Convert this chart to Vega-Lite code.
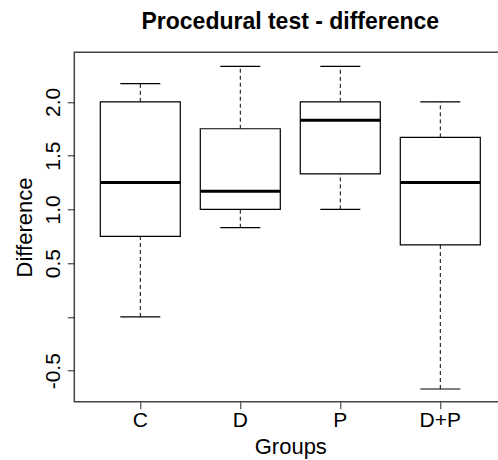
{
  "$schema": "https://vega.github.io/schema/vega-lite/v6.json",
  "autosize": "none",
  "padding": {"left": 74.3, "top": 52.3, "right": 0, "bottom": 58.3},
  "width": 432,
  "height": 349.4,
  "background": "white",
  "config": {
    "font": "Liberation Sans",
    "view": {"stroke": "#444", "strokeWidth": 1.5},
    "axis": {"grid": false, "domain": false, "tickColor": "#222", "tickSize": 7, "labelColor": "black", "titleColor": "black", "labelFont": "Liberation Sans", "titleFont": "Liberation Sans", "titleFontWeight": "normal"},
    "axisY": {"title": "Difference", "values": [-0.5, 0, 0.5, 1, 1.5, 2], "labelExpr": "datum.value == 0 ? '' : (datum.value < 0 ? '-' + format(-datum.value, '.1f') : format(datum.value, '.1f'))", "labelAngle": 270, "labelAlign": "center", "labelBaseline": "alphabetic", "labelPadding": 8, "labelFontSize": 21, "titleFontSize": 22, "titleAngle": 270, "titleAlign": "center", "titleBaseline": "alphabetic", "titleX": -43, "titleY": 174.7}
  },
  "title": {"text": "Procedural test - difference", "fontSize": 23, "fontWeight": "bold", "font": "Liberation Sans", "anchor": "middle", "baseline": "alphabetic", "offset": 0, "color": "black"},
  "data": {"values": [
    {"group": "C", "lower": 0.0, "q1": 0.75, "median": 1.25, "q3": 2.0, "upper": 2.17},
    {"group": "D", "lower": 0.83, "q1": 1.0, "median": 1.17, "q3": 1.75, "upper": 2.33},
    {"group": "P", "lower": 1.0, "q1": 1.33, "median": 1.83, "q3": 2.0, "upper": 2.33},
    {"group": "D+P", "lower": -0.67, "q1": 0.67, "median": 1.25, "q3": 1.67, "upper": 2.0}
  ]},
  "encoding": {
    "x": {"field": "group", "type": "nominal", "sort": ["C", "D", "P", "D+P"],
      "scale": {"paddingInner": 0, "paddingOuter": 0.16},
      "axis": {"title": "Groups", "labelAngle": 0, "labelFontSize": 21, "labelPadding": 1, "labelBaseline": "top", "labelOffset": 0, "titleFontSize": 22, "titleBaseline": "alphabetic", "titleX": 216, "titleY": 52.3, "titleAlign": "center"}}
  },
  "layer": [
    {"mark": {"type": "rule", "strokeDash": [4, 3], "color": "black", "strokeWidth": 1},
     "encoding": {"y": {"field": "lower", "type": "quantitative", "title": "Difference", "scale": {"domain": [-0.788, 2.461], "nice": false, "zero": false}}, "y2": {"field": "q1"}}},
    {"mark": {"type": "rule", "strokeDash": [4, 3], "color": "black", "strokeWidth": 1},
     "encoding": {"y": {"field": "q3", "type": "quantitative", "title": "Difference", "scale": {"domain": [-0.788, 2.461], "nice": false, "zero": false}}, "y2": {"field": "upper"}}},
    {"mark": {"type": "tick", "size": 40, "thickness": 1.2, "color": "black", "opacity": 1},
     "encoding": {"y": {"field": "lower", "type": "quantitative", "title": "Difference", "scale": {"domain": [-0.788, 2.461], "nice": false, "zero": false}}}},
    {"mark": {"type": "tick", "size": 40, "thickness": 1.2, "color": "black", "opacity": 1},
     "encoding": {"y": {"field": "upper", "type": "quantitative", "title": "Difference", "scale": {"domain": [-0.788, 2.461], "nice": false, "zero": false}}}},
    {"mark": {"type": "bar", "size": 80, "fill": "white", "stroke": "black", "strokeWidth": 1.2},
     "encoding": {"y": {"field": "q1", "type": "quantitative", "title": "Difference", "scale": {"domain": [-0.788, 2.461], "nice": false, "zero": false}},
       "y2": {"field": "q3"}}},
    {"mark": {"type": "tick", "size": 80, "thickness": 3, "color": "black", "opacity": 1},
     "encoding": {"y": {"field": "median", "type": "quantitative", "title": "Difference", "scale": {"domain": [-0.788, 2.461], "nice": false, "zero": false}}}}
  ]
}
